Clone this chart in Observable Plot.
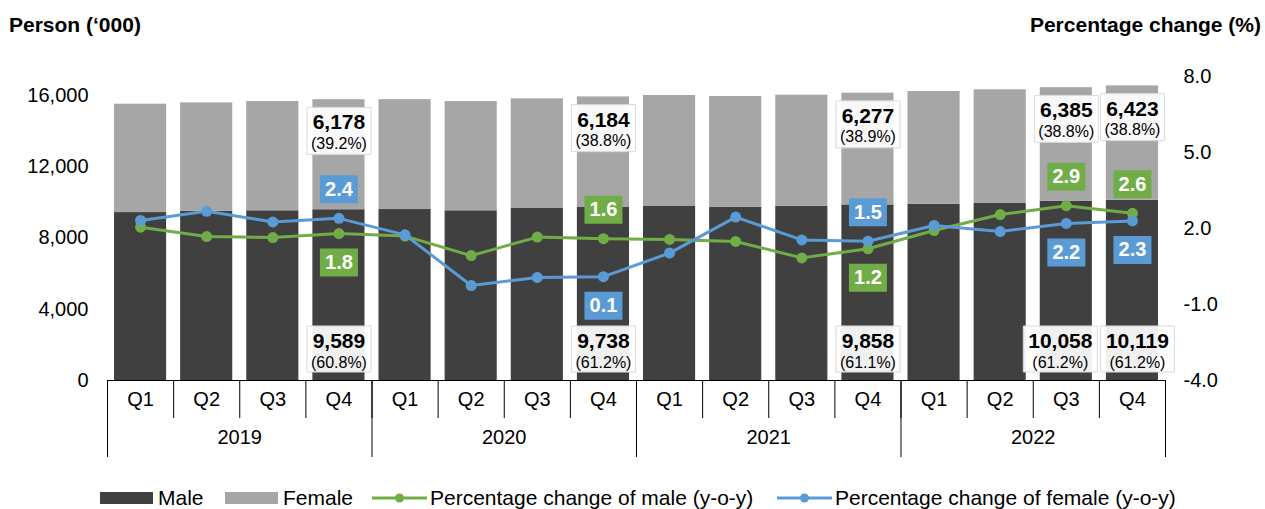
<!DOCTYPE html>
<html>
<head>
<meta charset="utf-8">
<script src="https://cdn.jsdelivr.net/npm/d3@7"></script>
<script src="https://cdn.jsdelivr.net/npm/@observablehq/plot@0.6"></script>
<style>
  body { margin: 0; background: #fff; font-family: "Liberation Sans", Arial, sans-serif; color: #000; }
  #wrap { width: 1265px; height: 509px; position: relative; overflow: hidden; }
  #head { height: 44px; position: relative; }
  #head .t { position: absolute; top: 14px; font-weight: bold; font-size: 21px; line-height: 21px; white-space: nowrap; }
  #head .l { left: 9px; }
  #head .r { right: 4px; }
  #chart { height: 426px; }
  #legend { position: absolute; top: 486px; left: 0; width: 1265px; height: 24px; font-size: 21px; }
  #legend .item { position: absolute; top: 0; height: 24px; display: flex; align-items: center; white-space: nowrap; }
  #legend .sw { display: inline-block; }
</style>
</head>
<body>
<div id="wrap">
  <div id="head">
    <div class="t l">Person (‘000)</div>
    <div class="t r">Percentage change (%)</div>
  </div>
  <div id="chart"></div>
  <div id="legend"></div>
</div>
<script>
// ---- data ----
const quarters = ["Q1", "Q2", "Q3", "Q4"];
const years = ["2019", "2020", "2021", "2022"];
const male = [9430, 9500, 9530, 9589, 9600, 9530, 9660, 9738, 9770, 9720, 9780, 9858, 9900, 9960, 10058, 10119];
const female = [6084, 6090, 6135, 6178, 6170, 6135, 6156, 6184, 6232, 6226, 6240, 6277, 6327, 6362, 6385, 6423];
const pctMale = [2.05, 1.68, 1.64, 1.8, 1.7, 0.93, 1.66, 1.6, 1.57, 1.49, 0.84, 1.2, 1.92, 2.55, 2.9, 2.6];
const pctFemale = [2.32, 2.68, 2.26, 2.4, 1.75, -0.25, 0.07, 0.1, 1.03, 2.45, 1.55, 1.5, 2.12, 1.88, 2.2, 2.3];
const labelledIdx = [3, 7, 11, 14, 15];
const leftTicks = [0, 4000, 8000, 12000, 16000];
const rightTicks = [-4, -1, 2, 5, 8];
const seriesNames = ["Male", "Female", "Percentage change of male (y-o-y)", "Percentage change of female (y-o-y)"];

// ---- styles ----
const C_MALE = "#404040", C_FEMALE = "#a6a6a6", C_GREEN = "#70ad47", C_BLUE = "#5b9bd5";
const YMAX = 17070;
const P0 = rightTicks[0], P1 = rightTicks[rightTicks.length - 1];
const p2y = p => (p - P0) / (P1 - P0) * YMAX;
const y2p = y => y / YMAX * (P1 - P0) + P0;

const rows = male.map((m, i) => ({
  i, q: quarters[i % 4], year: years[Math.floor(i / 4)],
  male: m, female: female[i], total: m + female[i],
  pm: pctMale[i], pf: pctFemale[i]
}));
const lab = rows.filter(d => labelledIdx.includes(d.i));
const yearRows = years.map((y, k) => ({ x: 4 * k + 2, y }));
const fmt = d3.format(",");

function boxSymbol(w, h) {
  return { draw(ctx) { ctx.rect(-w / 2, -h / 2, w, h); } };
}

const cx = d => d.i + 0.5;

// male value boxes (nudge neighbouring labels apart like the original)
const maleBoxMarks = lab.flatMap(d => {
  const txt = fmt(d.male);
  const w = txt.length > 5 ? 74 : 64;
  const hasRight = labelledIdx.includes(d.i + 1), hasLeft = labelledIdx.includes(d.i - 1);
  const dx = w > 64 ? (hasRight ? -6 : hasLeft ? 5 : 0) : 0;
  return [
    Plot.dot([d], { x: cx, y: () => 0, symbol: boxSymbol(w, 46), r: 10, fill: "white", fillOpacity: 0.92, stroke: "#d9d9d9", strokeWidth: 1, dy: -31.5, dx }),
    Plot.text([d], { x: cx, y: () => 0, text: () => txt, dy: -39.7, dx, fontSize: 21, fontWeight: "bold", fill: "black" }),
    Plot.text([d], { x: cx, y: () => 0, text: dd => "(" + (dd.male / dd.total * 100).toFixed(1) + "%)", dy: -17.3, dx, fontSize: 16, fill: "black" })
  ];
});

const femaleBoxMarks = [
  Plot.dot(lab, { x: cx, y: "total", symbol: boxSymbol(64, 47), r: 10, fill: "white", fillOpacity: 0.92, stroke: "#d9d9d9", strokeWidth: 1, dy: 31.2 }),
  Plot.text(lab, { x: cx, y: "total", text: d => fmt(d.female), dy: 23, fontSize: 21, fontWeight: "bold", fill: "black" }),
  Plot.text(lab, { x: cx, y: "total", text: d => "(" + (d.female / d.total * 100).toFixed(1) + "%)", dy: 44, fontSize: 16, fill: "black" })
];

// pct labels: the higher series labelled above, lower below
function pctLabels(key, other, color) {
  const above = lab.filter(d => d[key] > d[other]);
  const below = lab.filter(d => d[key] <= d[other]);
  const mk = (data, dy) => [
    Plot.dot(data, { x: cx, y: d => p2y(d[key]), symbol: boxSymbol(38, 28), r: 10, fill: color, stroke: "none", dy }),
    Plot.text(data, { x: cx, y: d => p2y(d[key]), text: d => d[key].toFixed(1), dy, fontSize: 20, fontWeight: "bold", fill: "white" })
  ];
  return [...mk(above, -29), ...mk(below, 29)];
}

const plot = Plot.plot({
  width: 1265,
  height: 426,
  marginLeft: 107,
  marginRight: 100,
  marginTop: 32,
  marginBottom: 90,
  x: { domain: [0, 16] },
  y: { domain: [0, YMAX] },
  style: { fontFamily: "Liberation Sans, Arial, sans-serif", fontSize: "20px", color: "black", background: "white", overflow: "visible" },
  marks: [
    Plot.rect(rows, { x1: d => d.i, x2: d => d.i + 1, y1: () => 0, y2: "male", fill: C_MALE, insetLeft: 7, insetRight: 7 }),
    Plot.rect(rows, { x1: d => d.i, x2: d => d.i + 1, y1: "male", y2: "total", fill: C_FEMALE, insetLeft: 7, insetRight: 7 }),
    Plot.ruleY([0], { stroke: "black", strokeWidth: 1 }),
    Plot.axisX({ ticks: d3.range(17), tickSize: 38, tickFormat: () => "", label: null, stroke: "black" }),
    Plot.axisX({ ticks: d3.range(0, 17, 4), tickSize: 77, tickFormat: () => "", label: null, stroke: "black" }),
    Plot.text(rows, { x: cx, text: "q", frameAnchor: "bottom", dy: 25, fontSize: 20, fill: "black" }),
    Plot.text(yearRows, { x: "x", text: "y", frameAnchor: "bottom", dy: 63, fontSize: 20, fill: "black" }),
    Plot.axisY({ anchor: "left", ticks: leftTicks, tickFormat: fmt, tickSize: 0, tickPadding: 19, label: null, fontSize: 20 }),
    Plot.axisY({ anchor: "right", ticks: rightTicks.map(p2y), tickFormat: d => y2p(d).toFixed(1), tickSize: 0, tickPadding: 18, label: null, fontSize: 20 }),
    Plot.line(rows, { x: cx, y: d => p2y(d.pm), stroke: C_GREEN, strokeWidth: 3 }),
    Plot.dot(rows, { x: cx, y: d => p2y(d.pm), r: 5.5, fill: C_GREEN, stroke: "none" }),
    Plot.line(rows, { x: cx, y: d => p2y(d.pf), stroke: C_BLUE, strokeWidth: 3 }),
    Plot.dot(rows, { x: cx, y: d => p2y(d.pf), r: 5.5, fill: C_BLUE, stroke: "none" }),
    ...femaleBoxMarks,
    ...maleBoxMarks,
    ...pctLabels("pm", "pf", C_GREEN),
    ...pctLabels("pf", "pm", C_BLUE)
  ]
});
document.getElementById("chart").appendChild(plot);

// ---- legend ----
const legend = document.getElementById("legend");
const legendItems = [
  { name: seriesNames[0], kind: "rect", color: C_MALE, left: 100 },
  { name: seriesNames[1], kind: "rect", color: C_FEMALE, left: 225 },
  { name: seriesNames[2], kind: "line", color: C_GREEN, left: 372 },
  { name: seriesNames[3], kind: "line", color: C_BLUE, left: 777 }
];
legendItems.forEach(it => {
  const div = document.createElement("div");
  div.className = "item";
  div.style.left = it.left + "px";
  const sw = it.kind === "rect"
    ? `<svg class="sw" width="53" height="12"><rect width="53" height="12" fill="${it.color}"/></svg>`
    : `<svg class="sw" width="55" height="12"><line x1="0" x2="55" y1="6" y2="6" stroke="${it.color}" stroke-width="3"/><circle cx="27.5" cy="6" r="4.5" fill="${it.color}"/></svg>`;
  div.innerHTML = sw + `<span style="margin-left:${it.kind === "rect" ? 5 : 3}px">${it.name}</span>`;
  legend.appendChild(div);
});
</script>
</body>
</html>
